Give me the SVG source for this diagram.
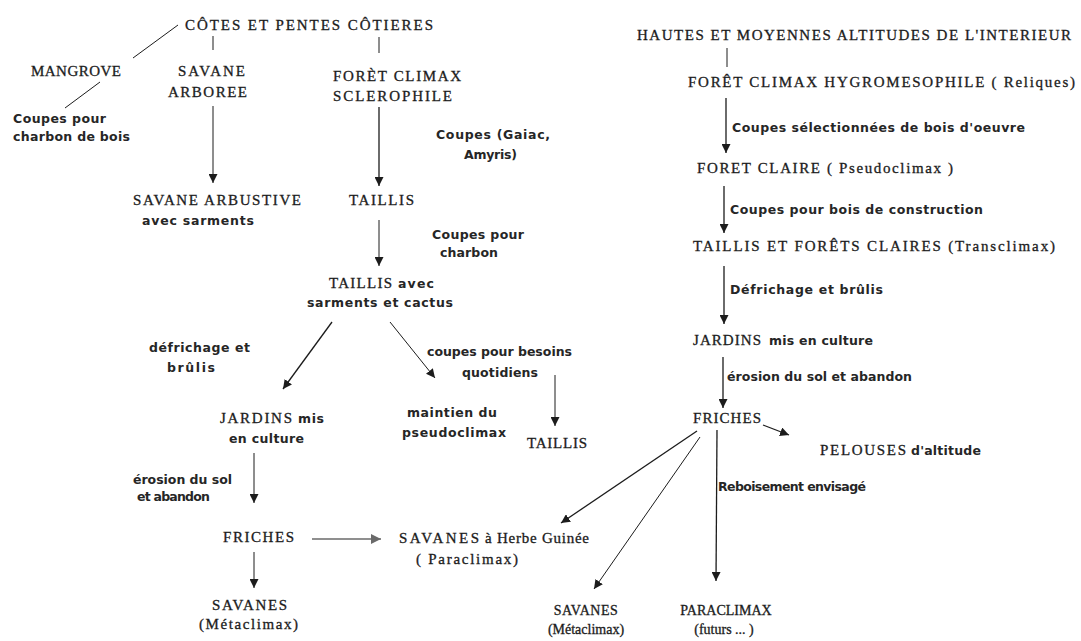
<svg xmlns="http://www.w3.org/2000/svg" width="1081" height="641" viewBox="0 0 1081 641">
<defs>
<style>
.t{font-family:"Liberation Serif","DejaVu Serif",serif;font-size:15px;fill:#1c1c1c;stroke:#1c1c1c;stroke-width:0.3;}
.tb{font-family:"Liberation Serif","DejaVu Serif",serif;font-size:14px;fill:#1c1c1c;stroke:#1c1c1c;stroke-width:0.3;text-anchor:middle;}
.s{font-family:"DejaVu Sans","Liberation Sans",sans-serif;font-size:12.5px;font-weight:bold;fill:#262626;}
.ln{stroke:#1c1c1c;stroke-width:1.3;fill:none;}
.th{stroke:#1c1c1c;stroke-width:1;fill:none;}
.gr{stroke:#6a6a6a;stroke-width:1.6;fill:none;}
</style>
<marker id="ah" viewBox="0 0 10 10" refX="10" refY="5" markerWidth="9" markerHeight="9" markerUnits="userSpaceOnUse" orient="auto">
<path d="M0,0 L10,5 L0,10 Z" fill="#1c1c1c"/>
</marker>
<marker id="ahg" viewBox="0 0 10 10" refX="10" refY="5" markerWidth="10" markerHeight="10" markerUnits="userSpaceOnUse" orient="auto">
<path d="M0,0 L10,5 L0,10 Z" fill="#6a6a6a"/>
</marker>
</defs>
<rect width="1081" height="641" fill="#ffffff"/>

<g id="connectors">
<line class="th" x1="178" y1="25" x2="133" y2="58"/>
<line class="th" x1="100" y1="82" x2="65" y2="108"/>
<line class="th" x1="213" y1="36" x2="213" y2="50"/>
<line class="th" x1="379" y1="37" x2="379" y2="53"/>
<line class="th" x1="213" y1="106" x2="213" y2="183" marker-end="url(#ah)"/>
<line class="ln" x1="379" y1="107" x2="379" y2="186" marker-end="url(#ah)"/>
<line class="th" x1="379" y1="220" x2="379" y2="266" marker-end="url(#ah)"/>
<line class="ln" x1="332" y1="322" x2="283" y2="389" marker-end="url(#ah)"/>
<line class="th" x1="390" y1="322" x2="435" y2="378" marker-end="url(#ah)"/>
<line class="th" x1="555" y1="375" x2="555" y2="426" marker-end="url(#ah)"/>
<line class="th" x1="254" y1="453" x2="254" y2="503" marker-end="url(#ah)"/>
<line class="gr" x1="312" y1="539" x2="381" y2="539" marker-end="url(#ahg)"/>
<line class="th" x1="254" y1="552" x2="254" y2="588" marker-end="url(#ah)"/>
<line class="th" x1="727" y1="48" x2="727" y2="67"/>
<line class="ln" x1="726" y1="98" x2="726" y2="153" marker-end="url(#ah)"/>
<line class="ln" x1="724" y1="186" x2="724" y2="233" marker-end="url(#ah)"/>
<line class="ln" x1="724" y1="266" x2="724" y2="324" marker-end="url(#ah)"/>
<line class="ln" x1="723" y1="357" x2="723" y2="408" marker-end="url(#ah)"/>
<line class="ln" x1="763" y1="425" x2="789" y2="435" marker-end="url(#ah)"/>
<line class="ln" x1="697" y1="431" x2="561" y2="523" marker-end="url(#ah)"/>
<line class="th" x1="700" y1="437" x2="594" y2="589" marker-end="url(#ah)"/>
<line class="ln" x1="717" y1="430" x2="716" y2="581" marker-end="url(#ah)"/>
</g>

<g id="cotes"><text class="t" x="185" y="30" textLength="248" lengthAdjust="spacing">CÔTES ET PENTES CÔTIERES</text></g>
<g id="mangrove"><text class="t" x="31" y="76" textLength="90" lengthAdjust="spacing">MANGROVE</text></g>
<g id="savane-arboree"><text class="t" x="178" y="76" textLength="67" lengthAdjust="spacing">SAVANE</text><text class="t" x="168" y="97" textLength="79" lengthAdjust="spacing">ARBOREE</text></g>
<g id="foret-sclerophile"><text class="t" x="333" y="81" textLength="128" lengthAdjust="spacing">FORÈT CLIMAX</text><text class="t" x="333" y="101" textLength="119" lengthAdjust="spacing">SCLEROPHILE</text></g>
<g id="lbl-mangrove"><text class="s" x="13" y="123" textLength="93" lengthAdjust="spacing">Coupes pour</text><text class="s" x="13" y="141" textLength="117" lengthAdjust="spacing">charbon de bois</text></g>
<g id="lbl-gaiac"><text class="s" x="436" y="139" textLength="114" lengthAdjust="spacing">Coupes (Gaiac,</text><text class="s" x="464" y="159" textLength="53" lengthAdjust="spacing">Amyris)</text></g>
<g id="savane-arbustive"><text class="t" x="133" y="205" textLength="168" lengthAdjust="spacing">SAVANE ARBUSTIVE</text><text class="s" x="142" y="225" textLength="112" lengthAdjust="spacing">avec sarments</text></g>
<g id="taillis1"><text class="t" x="349" y="205" textLength="65" lengthAdjust="spacing">TAILLIS</text></g>
<g id="lbl-charbon"><text class="s" x="432" y="239" textLength="92" lengthAdjust="spacing">Coupes pour</text><text class="s" x="440" y="257" textLength="58" lengthAdjust="spacing">charbon</text></g>
<g id="taillis-cactus"><text class="t" x="329" y="288" textLength="63" lengthAdjust="spacing">TAILLIS</text><text class="s" x="398" y="288" textLength="36" lengthAdjust="spacing">avec</text><text class="s" x="307" y="307" textLength="146" lengthAdjust="spacing">sarments et cactus</text></g>
<g id="lbl-defrichage"><text class="s" x="149" y="352" textLength="101" lengthAdjust="spacing">défrichage et</text><text class="s" x="167" y="372" textLength="48" lengthAdjust="spacing">brûlis</text></g>
<g id="lbl-besoins"><text class="s" x="427" y="356" textLength="145" lengthAdjust="spacing">coupes pour besoins</text><text class="s" x="462" y="377" textLength="76" lengthAdjust="spacing">quotidiens</text></g>
<g id="jardins1"><text class="t" x="220" y="423" textLength="72" lengthAdjust="spacing">JARDINS</text><text class="s" x="298" y="423" textLength="26" lengthAdjust="spacing">mis</text><text class="s" x="229" y="443" textLength="75" lengthAdjust="spacing">en culture</text></g>
<g id="maintien"><text class="s" x="407" y="417" textLength="90" lengthAdjust="spacing">maintien du</text><text class="s" x="402" y="437" textLength="104" lengthAdjust="spacing">pseudoclimax</text></g>
<g id="taillis2"><text class="t" x="527" y="448" textLength="60" lengthAdjust="spacing">TAILLIS</text></g>
<g id="lbl-erosion1"><text class="s" x="133" y="484" textLength="99" lengthAdjust="spacing">érosion du sol</text><text class="s" x="137" y="501" textLength="73" lengthAdjust="spacing">et abandon</text></g>
<g id="friches1"><text class="t" x="223" y="542" textLength="71" lengthAdjust="spacing">FRICHES</text></g>
<g id="savanes-herbe"><text class="t" x="399" y="543" textLength="80" lengthAdjust="spacing">SAVANES</text><text class="t" x="485" y="543" textLength="104" lengthAdjust="spacing">à Herbe Guinée</text><text class="t" x="416" y="564" textLength="102" lengthAdjust="spacing">( Paraclimax)</text></g>
<g id="savanes1"><text class="t" x="212" y="610" textLength="75" lengthAdjust="spacing">SAVANES</text><text class="t" x="199" y="629" textLength="99" lengthAdjust="spacing">(Métaclimax)</text></g>

<g id="hautes"><text class="t" x="637" y="40" textLength="434" lengthAdjust="spacing">HAUTES ET MOYENNES ALTITUDES DE L'INTERIEUR</text></g>
<g id="foret-hygro"><text class="t" x="688" y="87" textLength="387" lengthAdjust="spacing">FORÊT CLIMAX HYGROMESOPHILE ( Reliques)</text></g>
<g id="lbl-oeuvre"><text class="s" x="732" y="132" textLength="293" lengthAdjust="spacing">Coupes sélectionnées de bois d'oeuvre</text></g>
<g id="foret-claire"><text class="t" x="697" y="173" textLength="256" lengthAdjust="spacing">FORET CLAIRE ( Pseudoclimax )</text></g>
<g id="lbl-construction"><text class="s" x="730" y="214" textLength="253" lengthAdjust="spacing">Coupes pour bois de construction</text></g>
<g id="taillis-forets"><text class="t" x="693" y="251" textLength="362" lengthAdjust="spacing">TAILLIS ET FORÊTS CLAIRES (Transclimax)</text></g>
<g id="lbl-defrichage2"><text class="s" x="730" y="294" textLength="153" lengthAdjust="spacing">Défrichage et brûlis</text></g>
<g id="jardins2"><text class="t" x="693" y="345" textLength="68" lengthAdjust="spacing">JARDINS</text><text class="s" x="769" y="345" textLength="104" lengthAdjust="spacing">mis en culture</text></g>
<g id="lbl-erosion2"><text class="s" x="727" y="381" textLength="185" lengthAdjust="spacing">érosion du sol et abandon</text></g>
<g id="friches2"><text class="t" x="693" y="423" textLength="68" lengthAdjust="spacing">FRICHES</text></g>
<g id="pelouses"><text class="t" x="820" y="455" textLength="86" lengthAdjust="spacing">PELOUSES</text><text class="s" x="911" y="455" textLength="70" lengthAdjust="spacing">d'altitude</text></g>
<g id="lbl-reboisement"><text class="s" x="718" y="491" textLength="148" lengthAdjust="spacing">Reboisement envisagé</text></g>
<g id="savanes2"><text class="tb" x="586" y="615" letter-spacing="0.5">SAVANES</text><text class="tb" x="586" y="634">(Métaclimax)</text></g>
<g id="paraclimax"><text class="tb" x="726" y="615">PARACLIMAX</text><text class="tb" x="724" y="634">(futurs ... )</text></g>
</svg>
